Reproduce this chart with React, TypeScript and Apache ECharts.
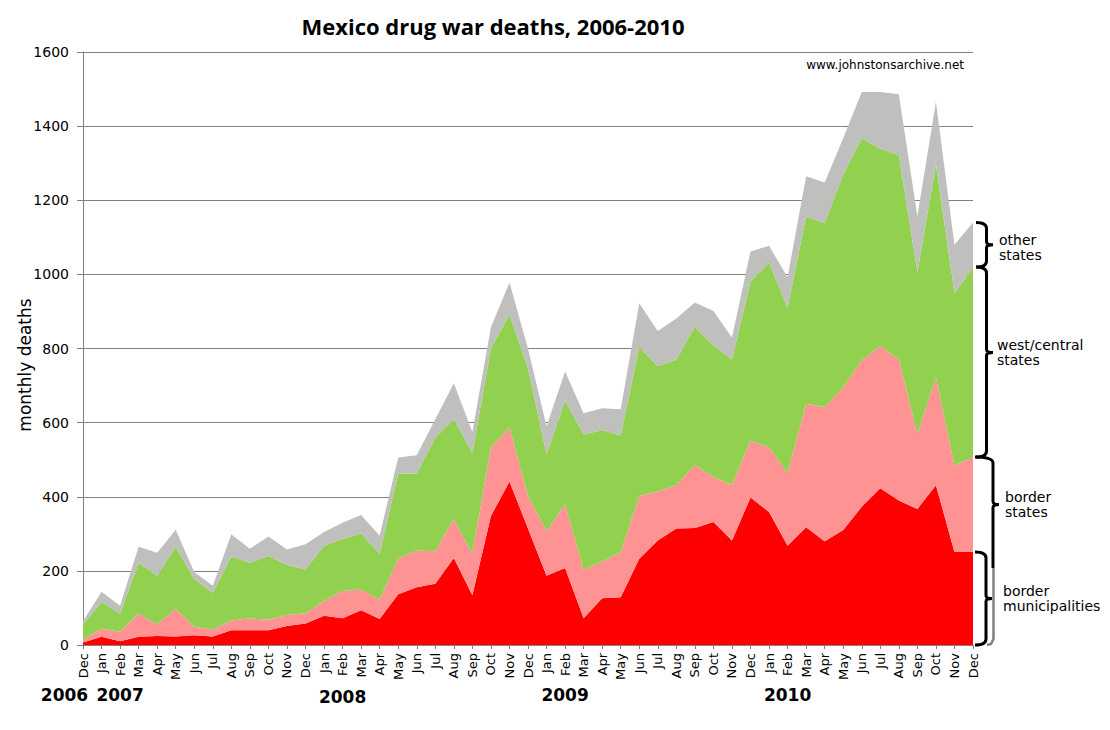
import React, { useEffect, useRef } from 'react';
import * as echarts from 'echarts';

const months = [
  'Dec',
  'Jan', 'Feb', 'Mar', 'Apr', 'May', 'Jun', 'Jul', 'Aug', 'Sep', 'Oct', 'Nov', 'Dec',
  'Jan', 'Feb', 'Mar', 'Apr', 'May', 'Jun', 'Jul', 'Aug', 'Sep', 'Oct', 'Nov', 'Dec',
  'Jan', 'Feb', 'Mar', 'Apr', 'May', 'Jun', 'Jul', 'Aug', 'Sep', 'Oct', 'Nov', 'Dec',
  'Jan', 'Feb', 'Mar', 'Apr', 'May', 'Jun', 'Jul', 'Aug', 'Sep', 'Oct', 'Nov', 'Dec',
];

const borderMunicipalities = [
  7,
  22, 10, 22, 24, 23, 26, 23, 40, 40, 40, 51, 58,
  79, 72, 94, 70, 137, 156, 165, 235, 134, 348, 441, 314,
  187, 208, 72, 126, 129, 233, 282, 314, 316, 332, 282, 398,
  359, 268, 318, 280, 310, 373, 423, 390, 367, 431, 251, 251,
];

const borderStates = [
  7,
  22, 26, 63, 31, 75, 23, 19, 26, 32, 28, 30, 28,
  40, 74, 56, 52, 96, 99, 88, 105, 112, 185, 146, 88,
  120, 171, 131, 99, 121, 169, 132, 118, 170, 121, 150, 153,
  174, 196, 333, 362, 384, 395, 384, 380, 202, 291, 233, 256,
];

const westCentralStates = [
  41,
  72, 49, 136, 132, 167, 129, 99, 173, 150, 172, 135, 118,
  149, 140, 151, 124, 230, 208, 307, 269, 273, 267, 305, 344,
  208, 280, 365, 355, 315, 403, 338, 338, 373, 356, 338, 430,
  499, 446, 506, 496, 576, 599, 532, 552, 437, 575, 465, 513,
];

const otherStates = [
  9,
  28, 21, 44, 62, 46, 19, 19, 60, 38, 53, 42, 68,
  37, 44, 50, 49, 43, 49, 49, 97, 56, 57, 86, 54,
  75, 79, 57, 59, 71, 117, 95, 111, 65, 92, 60, 81,
  45, 82, 108, 110, 97, 125, 153, 164, 151, 169, 131, 120,
];

const years = ['2006', '2007', '2008', '2009', '2010'];
const yearAnchorIndex = [-1, 2, 14, 26, 38];

const seriesNames = ['border municipalities', 'border states', 'west/central states', 'other states'];
const braceLabels = ['border\nmunicipalities', 'border\nstates', 'west/central\nstates', 'other\nstates'];

const FONT = '"DejaVu Sans", Verdana, sans-serif';

const Brace = echarts.graphic.extendShape({
  type: 'brace',
  shape: { x1: 0, x2: 0, x3: 0, y1: 0, y2: 0, ym: 0, r: 5, openBottom: 0 },
  buildPath(ctx: any, s: any) {
    const r = s.r;
    ctx.moveTo(s.x1, s.y1);
    ctx.quadraticCurveTo(s.x2, s.y1, s.x2, s.y1 + r);
    ctx.lineTo(s.x2, s.ym - 3);
    ctx.quadraticCurveTo(s.x2, s.ym, s.x3, s.ym);
    ctx.moveTo(s.x3, s.ym);
    ctx.quadraticCurveTo(s.x2, s.ym, s.x2, s.ym + 3);
    if (s.openBottom) {
      ctx.lineTo(s.x2, s.y2);
    } else {
      ctx.lineTo(s.x2, s.y2 - r);
      ctx.quadraticCurveTo(s.x2, s.y2, s.x1, s.y2);
    }
  },
});
echarts.graphic.registerShape('brace', Brace);

export default function App() {
  const ref = useRef<HTMLDivElement>(null);

  useEffect(() => {
    if (!ref.current) return;
    const chart = echarts.init(ref.current, null, { renderer: 'svg' });
    const colors = ['#FF0000', '#FF9393', '#92D050', '#BFC0BE'];
    const layers = [borderMunicipalities, borderStates, westCentralStates, otherStates];

    chart.setOption({
      animation: false,
      grid: { left: 83, right: 137, top: 52, bottom: 85, containLabel: false, outerBoundsMode: 'none' },
      xAxis: {
        type: 'category',
        data: months,
        boundaryGap: false,
        axisLine: { lineStyle: { color: '#808080', width: 1 } },
        axisTick: { show: true, interval: 0, length: 4, lineStyle: { color: '#808080' } },
        axisLabel: {
          interval: 0,
          rotate: 90,
          margin: 8,
          color: '#000',
          fontSize: 13,
          fontFamily: FONT,
        },
        splitLine: { show: false },
      },
      yAxis: {
        type: 'value',
        min: 0,
        max: 1600,
        interval: 200,
        axisLine: { show: true, lineStyle: { color: '#808080', width: 1 } },
        axisTick: { show: true, length: 6, lineStyle: { color: '#808080' } },
        axisLabel: {
          margin: 14,
          color: '#000',
          fontSize: 14,
          fontFamily: FONT,
          formatter: (v: number) => String(v),
        },
        splitLine: { show: true, lineStyle: { color: '#808080', width: 1 } },
      },
      series: layers.map((d, i) => ({
        name: seriesNames[i],
        type: 'line',
        stack: 'total',
        data: d,
        symbol: 'none',
        lineStyle: { width: 0 },
        itemStyle: { color: colors[i] },
        areaStyle: { color: colors[i], opacity: 1 },
        emphasis: { disabled: true },
      })),
    });

    const px = (i: number) => (chart.convertToPixel({ gridIndex: 0 }, [i, 0]) as number[])[0];
    const py = (v: number) => (chart.convertToPixel({ gridIndex: 0 }, [0, v]) as number[])[1];

    const last = months.length - 1;
    const step = px(1) - px(0);
    const cum: number[] = [0];
    layers.forEach((d) => cum.push(cum[cum.length - 1] + d[last]));
    const xEnd = px(last);

    const graphics: any[] = [];

    graphics.push({
      type: 'text',
      x: 493,
      y: 26,
      style: {
        text: 'Mexico drug war deaths, 2006-2010',
        fill: '#000',
        fontSize: 22,
        fontWeight: 'bold',
        fontFamily: '"Open Sans", "Noto Sans", sans-serif',
        align: 'center',
        verticalAlign: 'middle',
      },
    });

    graphics.push({
      type: 'text',
      x: xEnd - 9,
      y: 65,
      style: {
        text: 'www.johnstonsarchive.net',
        fill: '#000',
        fontSize: 12,
        fontFamily: FONT,
        align: 'right',
        verticalAlign: 'middle',
      },
    });

    graphics.push({
      type: 'text',
      x: 25,
      y: 365,
      rotation: Math.PI / 2,
      style: {
        text: 'monthly deaths',
        fill: '#000',
        fontSize: 17,
        fontFamily: FONT,
        align: 'center',
        verticalAlign: 'middle',
      },
    });

    years.forEach((yr, k) => {
      const idx = yearAnchorIndex[k];
      graphics.push({
        type: 'text',
        x: px(0) + idx * step,
        y: k === 2 ? 697 : 695,
        style: {
          text: yr,
          fill: '#000',
          fontSize: 17,
          fontWeight: 'bold',
          fontFamily: FONT,
          align: 'center',
          verticalAlign: 'middle',
        },
      });
    });

    const braceDefs = [
      { i: 0, x1: xEnd + 2, x2: xEnd + 13, x3: xEnd + 19, f: 0.5, tx: xEnd + 30 },
      { i: 1, x1: xEnd + 2, x2: xEnd + 20, x3: xEnd + 26, f: 0.5, tx: xEnd + 32 },
      { i: 2, x1: xEnd + 3, x2: xEnd + 13.5, x3: xEnd + 20, f: 0.45, tx: xEnd + 24 },
      { i: 3, x1: xEnd + 3, x2: xEnd + 13.5, x3: xEnd + 20, f: 0.5, tx: xEnd + 26 },
    ];

    braceDefs.forEach((b) => {
      const yTop = py(cum[b.i + 1]);
      const yBot = py(cum[b.i]);
      const ym = yTop + b.f * (yBot - yTop);
      const open = b.i === 1;
      const y2 = open ? yBot + 16 : yBot;
      graphics.push({
        type: 'brace',
        shape: { x1: b.x1, x2: b.x2, x3: b.x3, y1: yTop, y2, ym, r: 6, openBottom: open ? 1 : 0 },
        style: { stroke: '#000', lineWidth: 3, fill: 'none' },
        z: 10,
      });
      if (open) {
        graphics.push({
          type: 'polyline',
          shape: {
            points: [
              [b.x2 + 0.5, y2],
              [b.x2 + 0.5, py(0) - 6],
              [b.x2 - 2, py(0) - 1],
              [b.x2 - 6, py(0)],
            ],
          },
          style: { stroke: '#808080', lineWidth: 2.5, fill: 'none' },
          z: 9,
        });
      }
      graphics.push({
        type: 'text',
        x: b.tx,
        y: ym + (b.i === 3 ? 3 : 0),
        style: {
          text: braceLabels[b.i],
          fill: '#000',
          fontSize: 14,
          lineHeight: 15,
          fontFamily: FONT,
          align: 'left',
          verticalAlign: 'middle',
        },
        z: 10,
      });
    });

    chart.setOption({ graphic: graphics });

    return () => chart.dispose();
  }, []);

  return (
    <div
      ref={ref}
      style={{ position: 'fixed', left: 0, top: 0, width: 1110, height: 730, background: '#fff' }}
    />
  );
}
